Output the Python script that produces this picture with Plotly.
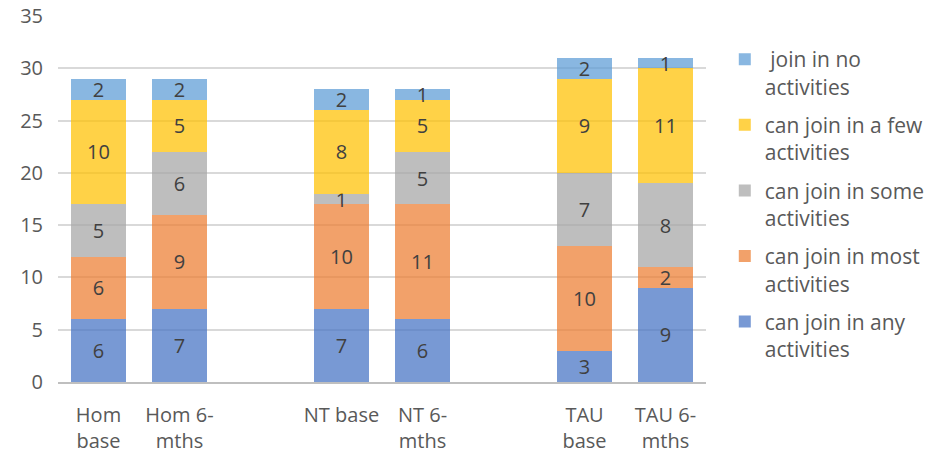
import plotly.graph_objects as go

categories = ["Hom<br>base", "Hom 6-<br>mths", " ", "NT base", "NT 6-<br>mths", "  ", "TAU<br>base", "TAU 6-<br>mths"]
bar_categories = ["Hom<br>base", "Hom 6-<br>mths", "NT base", "NT 6-<br>mths", "TAU<br>base", "TAU 6-<br>mths"]

any_act = [6, 7, 7, 6, 3, 9]
most_act = [6, 9, 10, 11, 10, 2]
some_act = [5, 6, 1, 5, 7, 8]
few_act = [10, 5, 8, 5, 9, 11]
no_act = [2, 2, 2, 1, 2, 1]

series = [
    ("can join in any<br>activities", any_act, "rgba(68,114,196,0.72)"),
    ("can join in most<br>activities", most_act, "rgba(237,125,49,0.72)"),
    ("can join in some<br>activities", some_act, "rgba(165,165,165,0.72)"),
    ("can join in a few<br>activities", few_act, "rgba(255,192,0,0.72)"),
    (" join in no<br>activities", no_act, "rgba(91,155,213,0.72)"),
]

FONT = "Open Sans"
fig = go.Figure()
n = len(series)
for i, (name, vals, col) in enumerate(series):
    fig.add_trace(go.Bar(
        x=bar_categories, y=vals, name=name,
        marker=dict(color=col, line=dict(width=0)),
        text=[str(v) for v in vals], textposition="inside",
        insidetextanchor="middle", textangle=0,
        textfont=dict(color="#404040", size=20, family=FONT),
        legendgroup="g%d" % (n - i), legendrank=n - i,
    ))

fig.update_layout(
    barmode="stack",
    bargap=0.333,
    width=930, height=461,
    margin=dict(l=58, r=224, t=16, b=79, autoexpand=False),
    paper_bgcolor="white", plot_bgcolor="white",
    font=dict(family=FONT, color="#595959", size=20),
    uniformtext=dict(minsize=20, mode="show"),
    legend=dict(
        x=1.029, y=0.937, xanchor="left", yanchor="top",
        traceorder="grouped", tracegroupgap=8,
        valign="top",
        font=dict(family=FONT, size=21, color="#595959"),
        bgcolor="rgba(0,0,0,0)",
    ),
    xaxis=dict(
        categoryorder="array", categoryarray=categories,
        tickmode="array", tickvals=categories, ticktext=categories,
        showgrid=False, showline=True, linecolor="#BFBFBF", linewidth=1.5,
        ticks="", ticklabelstandoff=14, automargin=False,
        range=[-0.5, 7.5],
    ),
    yaxis=dict(
        range=[0, 35], dtick=5, tick0=0,
        showgrid=True, gridcolor="#D9D9D9", gridwidth=1.5,
        zeroline=False, showline=False, ticks="",
        ticklabelstandoff=14, automargin=False,
    ),
)

fig.write_html("out.html")
